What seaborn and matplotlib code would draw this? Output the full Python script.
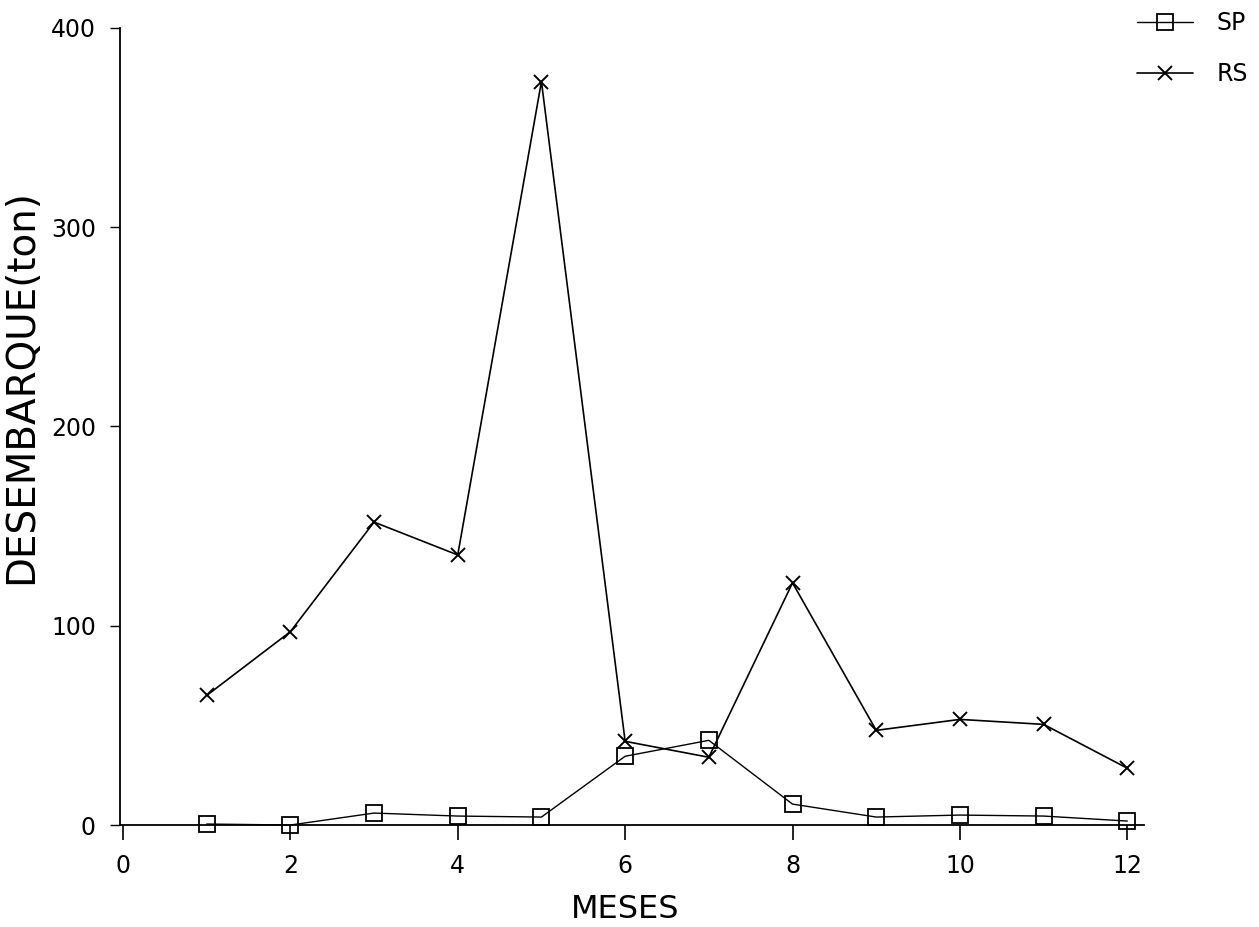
import matplotlib
matplotlib.use("Agg")
import matplotlib.pyplot as plt
import seaborn as sns
import pandas as pd

meses = [1, 2, 3, 4, 5, 6, 7, 8, 9, 10, 11, 12]
sp_values = [0.5, 0.0, 6.0, 4.5, 4.0, 34.5, 42.5, 10.5, 4.0, 5.0, 4.5, 2.0]
rs_values = [65, 97, 152, 135.5, 373, 42, 34, 121.5, 47.5, 53, 50.5, 28.5]
series_names = ["SP", "RS"]
x_ticks = [0, 2, 4, 6, 8, 10, 12]
y_ticks = [0, 100, 200, 300, 400]

sns.set_theme(style="white")
plt.rcParams["font.family"] = ["DejaVu Sans"]

fig = plt.figure(figsize=(12.59, 9.27), dpi=100)
ax = fig.add_axes([0.095, 0.110, 0.8137, 0.860])

sns.lineplot(x=meses, y=sp_values, marker="s", color="black", linewidth=1.0,
             markersize=11, markerfacecolor="none", markeredgecolor="black",
             markeredgewidth=1.3, clip_on=False, label=series_names[0], ax=ax)
sns.lineplot(x=meses, y=rs_values, marker="x", color="black", linewidth=1.2,
             markersize=10, markeredgecolor="black", markeredgewidth=1.4,
             clip_on=False, label=series_names[1], ax=ax)

ax.set_xlim(-0.04, 12.2)
ax.set_ylim(0, 400)
ax.set_xticks(x_ticks)
ax.set_yticks(y_ticks)

for s in ["top", "right"]:
    ax.spines[s].set_visible(False)
for s in ["left", "bottom"]:
    ax.spines[s].set_color("black")
    ax.spines[s].set_linewidth(1.3)

ax.tick_params(axis="x", direction="out", length=11, width=1.2, pad=10,
               labelsize=17, colors="black", bottom=True)
ax.tick_params(axis="y", direction="out", length=7, width=1.0, pad=10,
               labelsize=17, colors="black", left=True)

ax.set_xlabel("MESES", fontsize=23, color="black")
ax.set_ylabel("DESEMBARQUE(ton)", fontsize=28, color="black")
ax.xaxis.set_label_coords(0.493, -0.086)
ax.yaxis.set_label_coords(-0.078, 0.55)

handles, labels = ax.get_legend_handles_labels()
ax.get_legend().remove()
leg = fig.legend(handles, labels, loc="upper right", bbox_to_anchor=(0.999, 0.998),
                 frameon=False, fontsize=17, handlelength=2.4,
                 labelspacing=1.15, handletextpad=1.0, borderaxespad=0.0)
for t in leg.get_texts():
    t.set_color("black")

fig.savefig("out.png", dpi=100, facecolor="white")
